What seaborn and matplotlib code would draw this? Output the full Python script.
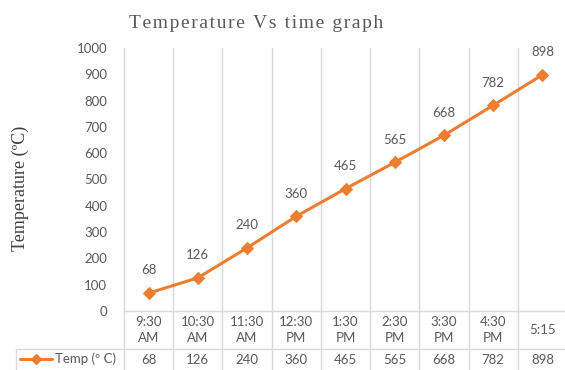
import matplotlib
matplotlib.use("Agg")
import matplotlib.pyplot as plt
import matplotlib.transforms as mtransforms
from matplotlib.lines import Line2D
import seaborn as sns
import pandas as pd

categories = ["9:30\nAM", "10:30\nAM", "11:30\nAM", "12:30\nPM", "1:30\nPM",
              "2:30\nPM", "3:30\nPM", "4:30\nPM", "5:15"]
temps = [68, 126, 240, 360, 465, 565, 668, 782, 898]
yticks = [0, 100, 200, 300, 400, 500, 600, 700, 800, 900, 1000]
series_name = "Temp (º C)"
title = "Temperature Vs time graph"

sns.set_theme(style="white")
plt.rcParams['font.family'] = ['Lato', 'DejaVu Sans']

W, H = 565, 370
fig = plt.figure(figsize=(W / 100, H / 100), dpi=100)
left, right, top, bottom = 124, 567, 48, 311
ax = fig.add_axes([left / W, 1 - bottom / H, (right - left) / W, (bottom - top) / H])

df = pd.DataFrame({"idx": list(range(len(categories))), "temp": temps})
orange = "#ED7D31"
gray_txt = "#595959"
grid_c = "#D9D9D9"

sns.lineplot(data=df, x="idx", y="temp", ax=ax, color=orange, linewidth=2.2,
             marker="D", markersize=6, markeredgecolor=orange, zorder=3)

ax.set_xlim(-0.5, len(categories) - 0.5)
ax.set_ylim(0, 1000)
ax.set_yticks(yticks)
ax.set_yticklabels([str(v) for v in yticks], color=gray_txt, fontsize=9.5)
ax.tick_params(axis="y", length=0, pad=12)
ax.set_xticks([])
for s in ax.spines.values():
    s.set_visible(False)
ax.set_xlabel("")
ax.set_ylabel("Temperature (ºC)", family=["Liberation Serif"], fontsize=13,
              color="#404040")
ax.yaxis.set_label_coords((29 - left) / (right - left), (bottom - 188) / (bottom - top))

# data labels
for i, v in enumerate(temps):
    ax.annotate(str(v), (i, v), xytext=(0, 12), textcoords="offset points",
                ha="center", va="bottom", color=gray_txt, fontsize=9.5)

# table / gridlines
trans = mtransforms.blended_transform_factory(ax.transData, ax.transAxes)
ph = bottom - top
row1 = -(349 - bottom) / ph
row2 = -(370 - bottom) / ph
for k in range(len(categories)):
    x = k - 0.5
    ax.add_line(Line2D([x, x], [1, row2], transform=trans, color=grid_c,
                       linewidth=1, clip_on=False, zorder=1))
ax.add_line(Line2D([-0.5, len(categories) - 0.5], [0, 0], transform=trans,
                   color=grid_c, linewidth=1, clip_on=False, zorder=1))
fig.add_artist(Line2D([16 / W, 1], [1 - 349 / H, 1 - 349 / H], color=grid_c, linewidth=1))
fig.add_artist(Line2D([16 / W, 16 / W], [1 - 349 / H, 0], color=grid_c, linewidth=1))

for i, c in enumerate(categories):
    ax.text(i, (0 + row1) / 2, c, transform=trans, ha="center", va="center",
            color=gray_txt, fontsize=9.5, linespacing=1.35, clip_on=False)
    ax.text(i, (row1 + row2) / 2, str(temps[i]), transform=trans, ha="center",
            va="center", color=gray_txt, fontsize=9.5, clip_on=False)

# legend key in table
ly = 1 - 359 / H
fig.add_artist(Line2D([20 / W, 52 / W], [ly, ly], color=orange, linewidth=2.2))
fig.add_artist(Line2D([36 / W], [ly], color=orange, marker="D", markersize=5,
                      linestyle="none"))
fig.text(55 / W, ly, series_name, ha="left", va="center", color=gray_txt, fontsize=9.5)

spaced = "\u200a".join(title)
fig.text(256 / W, 1 - 23 / H, spaced,
         ha="center", va="center", family=["Liberation Serif", "DejaVu Serif"],
         fontsize=14, color="#595959")

fig.savefig("out.png", dpi=100)
